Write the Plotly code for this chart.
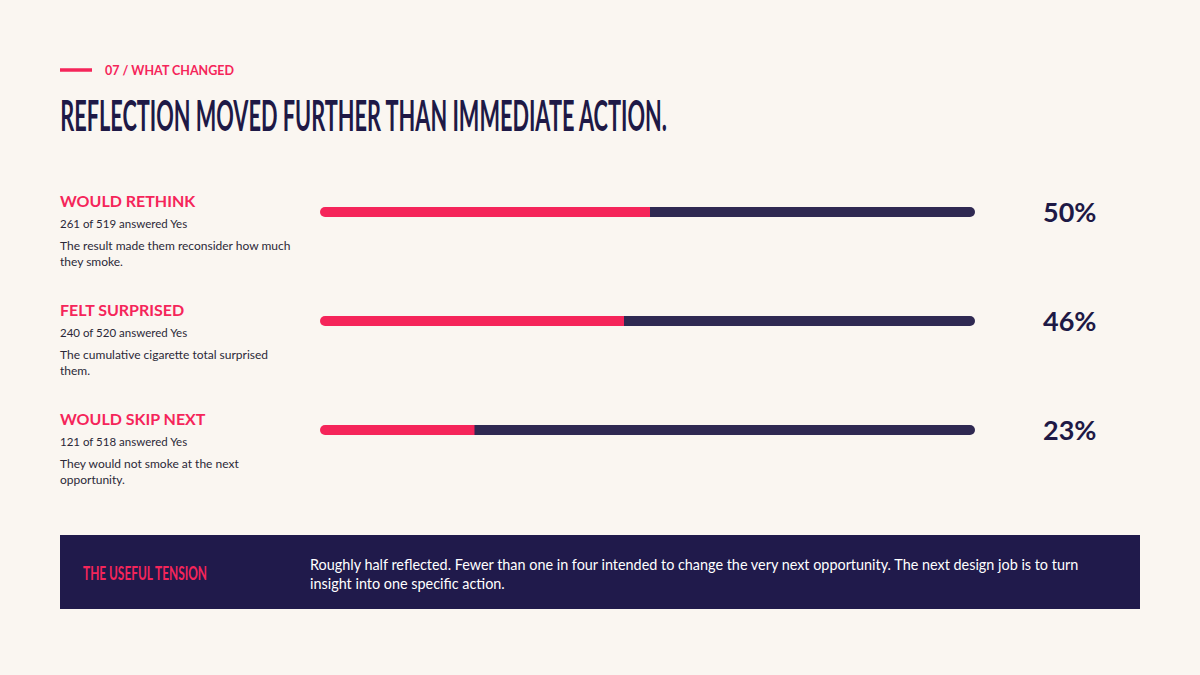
import plotly.graph_objects as go

# survey results
labels = ["WOULD RETHINK", "FELT SURPRISED", "WOULD SKIP NEXT"]
yes_counts = [261, 240, 121]
totals = [519, 520, 518]
notes = [
    "The result made them reconsider how much<br>they smoke.",
    "The cumulative cigarette total surprised<br>them.",
    "They would not smoke at the next<br>opportunity.",
]
pcts = [round(100 * y / t) for y, t in zip(yes_counts, totals)]

title = "REFLECTION MOVED FURTHER THAN IMMEDIATE ACTION."
callout = "THE USEFUL TENSION"

BG = "#FAF6F1"
PINK = "#F5255A"
NAVY = "#1E1946"
TRACK = "#2F2952"
PANEL = "#201A4B"
BODY = "Lato, 'Noto Sans', sans-serif"

fig = go.Figure()

# full track (100%)
fig.add_trace(go.Bar(
    x=[100] * len(labels), y=labels, orientation="h", width=0.092,
    marker=dict(color=TRACK, line=dict(width=0)),
    hoverinfo="skip", showlegend=False,
))

# filled share
fig.add_trace(go.Bar(
    x=pcts, y=labels, orientation="h", width=0.092,
    marker=dict(color=PINK, line=dict(width=0)),
    hovertemplate="%{y}: %{x}%<extra></extra>", showlegend=False,
))

# rounded start cap
fig.add_trace(go.Scatter(
    x=[0] * len(labels), y=labels, mode="markers",
    marker=dict(color=PINK, size=10),
    cliponaxis=False, hoverinfo="skip", showlegend=False,
))

annotations = []
for lab, y, t, note, p in zip(labels, yes_counts, totals, notes, pcts):
    annotations += [
        dict(x=58 / 1200, xref="paper", y=lab, yref="y", yshift=12,
             text=f"<b>{lab}</b>", font=dict(family=BODY, size=16, color=PINK),
             xanchor="left", yanchor="middle", showarrow=False),
        dict(x=58 / 1200, xref="paper", y=lab, yref="y", yshift=-11,
             text=f"{y} of {t} answered Yes", font=dict(family=BODY, size=11.5, color="#2B2838"),
             xanchor="left", yanchor="middle", showarrow=False),
        dict(x=58 / 1200, xref="paper", y=lab, yref="y", yshift=-41,
             text=note, font=dict(family=BODY, size=12, color="#2B2838"),
             xanchor="left", yanchor="middle", align="left", showarrow=False),
        dict(x=1098 / 1200, xref="paper", y=lab, yref="y", yshift=1,
             text=f"<b>{p}%</b>", font=dict(family=BODY, size=27, color=NAVY),
             xanchor="right", yanchor="middle", showarrow=False),
    ]

annotations += [
    dict(x=103 / 1200, xref="paper", y=1 - 71 / 675, yref="paper",
         text="<b>07 / WHAT CHANGED</b>", font=dict(family=BODY, size=12.5, color=PINK),
         xanchor="left", yanchor="middle", showarrow=False),
    dict(x=58 / 1200, xref="paper", y=1 - 114 / 675, yref="paper",
         text=f"<b>{title}</b>", font=dict(family=BODY, size=30, color=NAVY),
         xanchor="left", yanchor="middle", showarrow=False),
    dict(x=81 / 1200, xref="paper", y=1 - 572 / 675, yref="paper",
         text=f"<b>{callout}</b>", font=dict(family=BODY, size=16, color=PINK),
         xanchor="left", yanchor="middle", showarrow=False),
    dict(x=308 / 1200, xref="paper", y=1 - 574 / 675, yref="paper",
         text="Roughly half reflected. Fewer than one in four intended to change the very next opportunity. "
              "The next design job is to turn<br>insight into one specific action.",
         font=dict(family=BODY, size=14.4, color="#FFFFFF"),
         xanchor="left", yanchor="middle", align="left", showarrow=False),
]

shapes = [
    dict(type="line", xref="paper", yref="paper", x0=60 / 1200, x1=92 / 1200,
         y0=1 - 70 / 675, y1=1 - 70 / 675, line=dict(color=PINK, width=3.5)),
    dict(type="rect", xref="paper", yref="paper", x0=60 / 1200, x1=1140 / 1200,
         y0=1 - 609 / 675, y1=1 - 535 / 675, fillcolor=PANEL, line=dict(width=0), layer="below"),
]

fig.update_layout(
    width=1200, height=675,
    margin=dict(l=0, r=0, t=0, b=0),
    paper_bgcolor=BG, plot_bgcolor=BG,
    barmode="overlay", barcornerradius=5,
    xaxis=dict(domain=[325 / 1200, 975 / 1200], range=[0, 100], visible=False, fixedrange=True),
    yaxis=dict(domain=[1 - 484.5 / 675, 1 - 157.5 / 675], type="category",
               categoryorder="array", categoryarray=labels, range=[2.5, -0.5],
               visible=False, fixedrange=True),
    annotations=annotations,
    shapes=shapes,
)

# squeeze the two display headings into a condensed look (no condensed face installed)
js = """
document.body.style.margin = '0';
document.body.style.background = '%s';
var fit = {'%s': [607, 1.4], '%s': [124, 1.2]};
document.querySelectorAll('text.annotation-text').forEach(function (t) {
  var f = fit[t.textContent];
  if (!f) return;
  var sx = f[0] / t.getBBox().width;
  t.style.transformBox = 'fill-box';
  t.style.transformOrigin = 'left center';
  t.style.transform = 'scale(' + sx + ',' + f[1] + ')';
});
""" % (BG, title, callout)

fig.write_html("out.html", config={"displayModeBar": False}, post_script=js)
